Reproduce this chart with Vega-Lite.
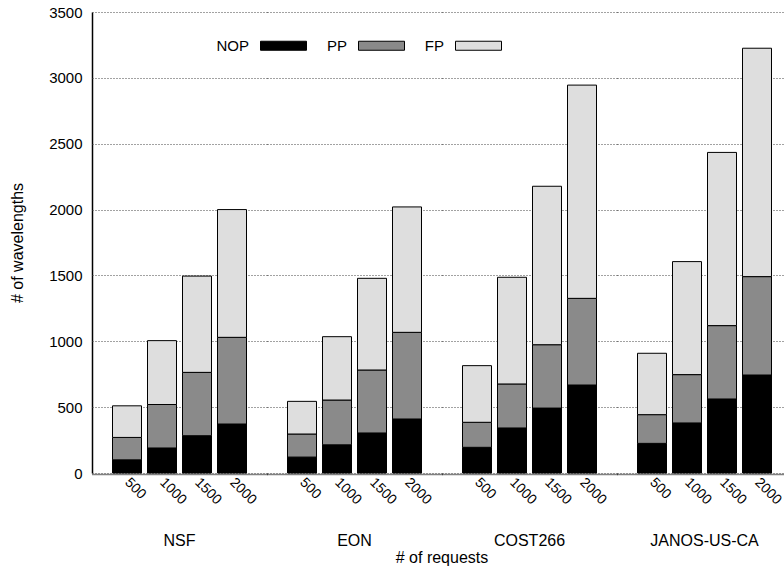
{
  "$schema": "https://vega.github.io/schema/vega-lite/v6.json",
  "padding": {"left": 9, "top": 5, "right": 0, "bottom": 0},
  "data": {
    "values": [
      {"net": "NSF", "req": "500", "type": "NOP", "value": 100},
      {"net": "NSF", "req": "500", "type": "PP", "value": 170},
      {"net": "NSF", "req": "500", "type": "FP", "value": 240},
      {"net": "NSF", "req": "1000", "type": "NOP", "value": 190},
      {"net": "NSF", "req": "1000", "type": "PP", "value": 330},
      {"net": "NSF", "req": "1000", "type": "FP", "value": 485},
      {"net": "NSF", "req": "1500", "type": "NOP", "value": 283},
      {"net": "NSF", "req": "1500", "type": "PP", "value": 481},
      {"net": "NSF", "req": "1500", "type": "FP", "value": 731},
      {"net": "NSF", "req": "2000", "type": "NOP", "value": 372},
      {"net": "NSF", "req": "2000", "type": "PP", "value": 658},
      {"net": "NSF", "req": "2000", "type": "FP", "value": 970},
      {"net": "EON", "req": "500", "type": "NOP", "value": 121},
      {"net": "EON", "req": "500", "type": "PP", "value": 175},
      {"net": "EON", "req": "500", "type": "FP", "value": 248},
      {"net": "EON", "req": "1000", "type": "NOP", "value": 214},
      {"net": "EON", "req": "1000", "type": "PP", "value": 340},
      {"net": "EON", "req": "1000", "type": "FP", "value": 481},
      {"net": "EON", "req": "1500", "type": "NOP", "value": 304},
      {"net": "EON", "req": "1500", "type": "PP", "value": 478},
      {"net": "EON", "req": "1500", "type": "FP", "value": 696},
      {"net": "EON", "req": "2000", "type": "NOP", "value": 410},
      {"net": "EON", "req": "2000", "type": "PP", "value": 658},
      {"net": "EON", "req": "2000", "type": "FP", "value": 952},
      {"net": "COST266", "req": "500", "type": "NOP", "value": 195},
      {"net": "COST266", "req": "500", "type": "PP", "value": 190},
      {"net": "COST266", "req": "500", "type": "FP", "value": 430},
      {"net": "COST266", "req": "1000", "type": "NOP", "value": 342},
      {"net": "COST266", "req": "1000", "type": "PP", "value": 334},
      {"net": "COST266", "req": "1000", "type": "FP", "value": 810},
      {"net": "COST266", "req": "1500", "type": "NOP", "value": 493},
      {"net": "COST266", "req": "1500", "type": "PP", "value": 481},
      {"net": "COST266", "req": "1500", "type": "FP", "value": 1203},
      {"net": "COST266", "req": "2000", "type": "NOP", "value": 668},
      {"net": "COST266", "req": "2000", "type": "PP", "value": 658},
      {"net": "COST266", "req": "2000", "type": "FP", "value": 1619},
      {"net": "JANOS-US-CA", "req": "500", "type": "NOP", "value": 225},
      {"net": "JANOS-US-CA", "req": "500", "type": "PP", "value": 218},
      {"net": "JANOS-US-CA", "req": "500", "type": "FP", "value": 466},
      {"net": "JANOS-US-CA", "req": "1000", "type": "NOP", "value": 380},
      {"net": "JANOS-US-CA", "req": "1000", "type": "PP", "value": 367},
      {"net": "JANOS-US-CA", "req": "1000", "type": "FP", "value": 858},
      {"net": "JANOS-US-CA", "req": "1500", "type": "NOP", "value": 562},
      {"net": "JANOS-US-CA", "req": "1500", "type": "PP", "value": 557},
      {"net": "JANOS-US-CA", "req": "1500", "type": "FP", "value": 1315},
      {"net": "JANOS-US-CA", "req": "2000", "type": "NOP", "value": 744},
      {"net": "JANOS-US-CA", "req": "2000", "type": "PP", "value": 747},
      {"net": "JANOS-US-CA", "req": "2000", "type": "FP", "value": 1734}
    ]
  },
  "transform": [{"calculate": "indexof(['NOP','PP','FP'], datum.type)", "as": "ord"}],
  "facet": {
    "column": {
      "field": "net",
      "type": "nominal",
      "sort": ["NSF", "EON", "COST266", "JANOS-US-CA"],
      "title": "# of requests",
      "header": {
        "labelOrient": "bottom",
        "titleOrient": "bottom",
        "labelFont": "Liberation Sans",
        "titleFont": "Liberation Sans",
        "labelFontSize": 16,
        "titleFontSize": 16,
        "titleFontWeight": "normal",
        "labelColor": "black",
        "titleColor": "black",
        "labelPadding": 26,
        "titlePadding": -9
      }
    }
  },
  "spacing": 0,
  "spec": {
    "width": 175,
    "height": 461,
    "mark": {"type": "bar", "size": 29, "stroke": "black", "strokeWidth": 1},
    "encoding": {
      "x": {
        "field": "req",
        "type": "ordinal",
        "sort": ["500", "1000", "1500", "2000"],
        "scale": {"paddingInner": 0, "paddingOuter": 0.5},
        "axis": {
          "title": null,
          "labelAngle": 45,
          "labelAlign": "left",
          "labelBaseline": "middle",
          "labelFontSize": 14,
          "labelColor": "black",
          "labelPadding": 6,
          "ticks": false,
          "domainColor": "black",
          "domainDash": [1, 1],
          "domainWidth": 1.5
        }
      },
      "y": {
        "field": "value",
        "type": "quantitative",
        "stack": "zero",
        "scale": {"domain": [0, 3500]},
        "axis": {
          "values": [0, 500, 1000, 1500, 2000, 2500, 3000, 3500],
          "format": "d",
          "title": "# of wavelengths",
          "titleFontSize": 16,
          "titleFontWeight": "normal",
          "titleColor": "black",
          "titlePadding": 23,
          "labelFontSize": 15,
          "labelColor": "black",
          "labelPadding": 10,
          "ticks": false,
          "grid": true,
          "gridColor": "#444",
          "gridDash": [1, 2],
          "domainColor": "black",
          "domainWidth": 1.5
        }
      },
      "color": {
        "field": "type",
        "type": "nominal",
        "scale": {"domain": ["NOP", "PP", "FP"], "range": ["#000000", "#8a8a8a", "#dedede"]},
        "legend": {
          "title": null,
          "orient": "none",
          "legendX": 168,
          "legendY": 10,
          "direction": "horizontal",
          "symbolType": "M-1,-0.196H1V0.196H-1Z",
          "symbolSize": 2116,
          "symbolStrokeColor": "black",
          "symbolStrokeWidth": 1,
          "symbolOpacity": 1,
          "labelAlign": "right",
          "labelOffset": -58,
          "labelFontSize": 15,
          "labelColor": "black",
          "columnPadding": 17
        }
      },
      "order": {"field": "ord", "type": "quantitative"}
    }
  },
  "config": {
    "view": {"stroke": null},
    "font": "Liberation Sans"
  }
}
